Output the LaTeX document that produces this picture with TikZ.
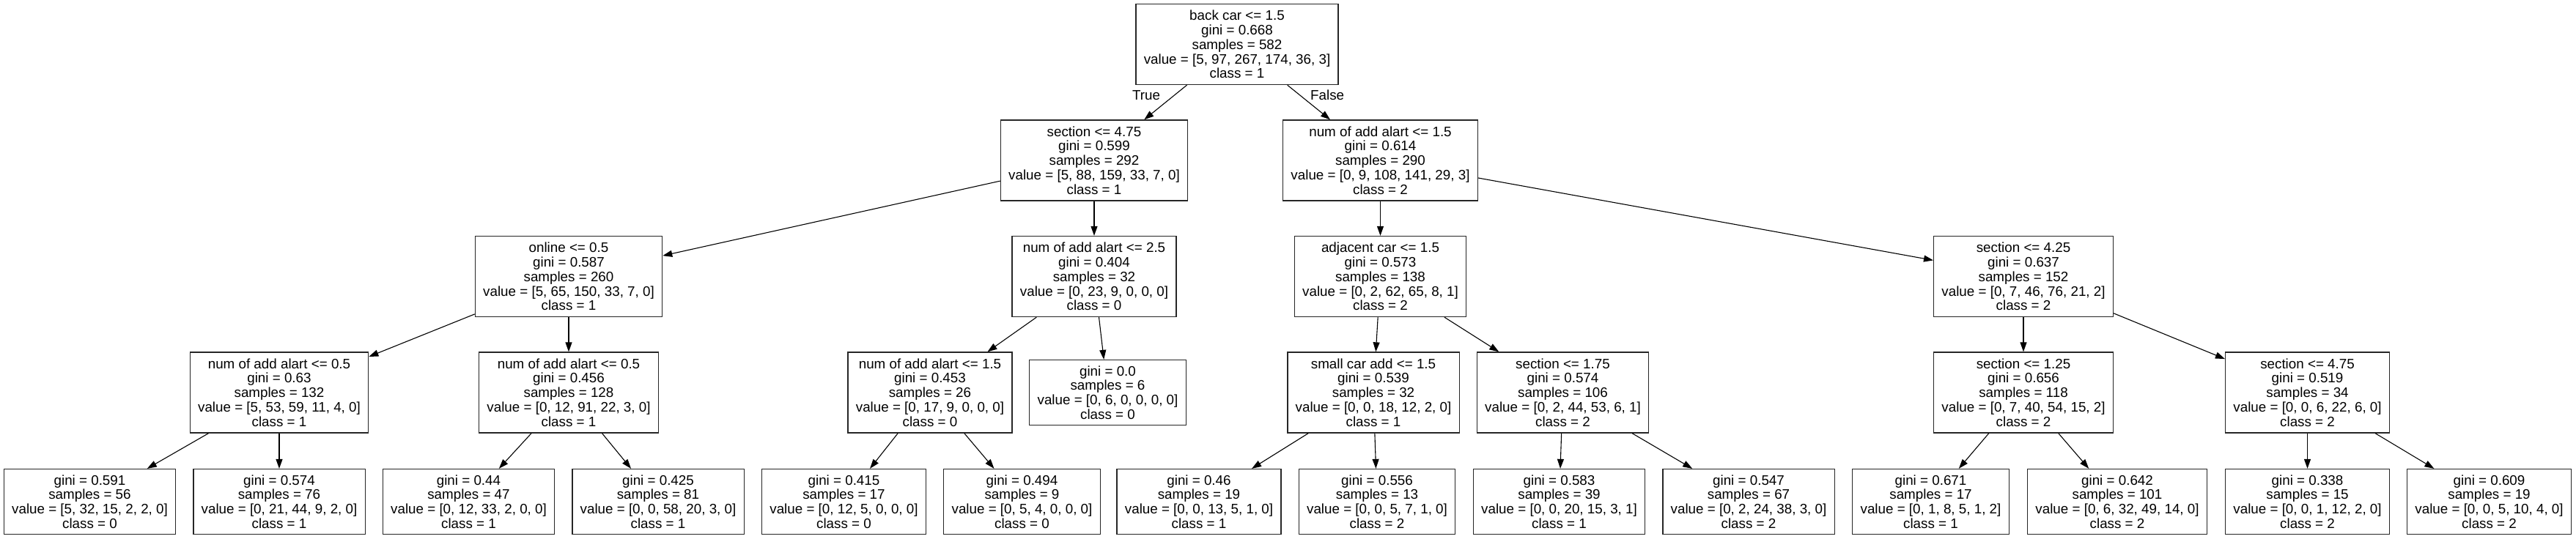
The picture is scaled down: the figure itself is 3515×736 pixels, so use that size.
\documentclass[tikz,border=0pt]{standalone}
\usepackage{fontspec}
\setmainfont{Liberation Sans}
\usetikzlibrary{positioning,arrows.meta}

\tikzstyle{block} = [rectangle, draw=black!85, line width=1.3bp, minimum height=110bp, inner xsep=10.8bp, inner ysep=0pt, align=center]
\tikzstyle{leaf} = [block, minimum height=89bp]
\tikzstyle{arrow} = [line width=1.1bp, -{Triangle[length=13bp,width=9bp]}]

\begin{document}
\begin{tikzpicture}[node distance=158.5bp, font=\fontsize{18.8bp}{19.8bp}\selectfont]
    \useasboundingbox (0,0) rectangle (3515bp,-736bp);
    \node (0) [block] at (1688bp,-60.5bp) {back car <= 1.5\\gini = 0.668\\samples = 582\\value = [5, 97, 267, 174, 36, 3]\\class = 1};
    \node (1) [block, below of=0, xshift=-195bp] {section <= 4.75\\gini = 0.599\\samples = 292\\value = [5, 88, 159, 33, 7, 0]\\class = 1};
    \node (2) [block, below of=1, xshift=-717bp] {online <= 0.5\\gini = 0.587\\samples = 260\\value = [5, 65, 150, 33, 7, 0]\\class = 1};
    \node (3) [block, below of=2, xshift=-395bp] {num of add alart <= 0.5\\gini = 0.63\\samples = 132\\value = [5, 53, 59, 11, 4, 0]\\class = 1};
    \node (4) [leaf, below of=3, xshift=-258.5bp, yshift=9.5bp] {gini = 0.591\\samples = 56\\value = [5, 32, 15, 2, 2, 0]\\class = 0};
    \node (5) [leaf, below of=3, yshift=9.5bp] {gini = 0.574\\samples = 76\\value = [0, 21, 44, 9, 2, 0]\\class = 1};
    \node (6) [block, below of=2] {num of add alart <= 0.5\\gini = 0.456\\samples = 128\\value = [0, 12, 91, 22, 3, 0]\\class = 1};
    \node (7) [leaf, below of=6, xshift=-136.5bp, yshift=9.5bp] {gini = 0.44\\samples = 47\\value = [0, 12, 33, 2, 0, 0]\\class = 1};
    \node (8) [leaf, below of=6, xshift=122bp, yshift=9.5bp] {gini = 0.425\\samples = 81\\value = [0, 0, 58, 20, 3, 0]\\class = 1};
    \node (9) [block, below of=1] {num of add alart <= 2.5\\gini = 0.404\\samples = 32\\value = [0, 23, 9, 0, 0, 0]\\class = 0};
    \node (10) [block, below of=9, xshift=-224bp] {num of add alart <= 1.5\\gini = 0.453\\samples = 26\\value = [0, 17, 9, 0, 0, 0]\\class = 0};
    \node (11) [leaf, below of=10, xshift=-117.5bp, yshift=9.5bp] {gini = 0.415\\samples = 17\\value = [0, 12, 5, 0, 0, 0]\\class = 0};
    \node (12) [leaf, below of=10, xshift=125.5bp, yshift=9.5bp] {gini = 0.494\\samples = 9\\value = [0, 5, 4, 0, 0, 0]\\class = 0};
    \node (13) [leaf, below of=9, xshift=18.5bp] {gini = 0.0\\samples = 6\\value = [0, 6, 0, 0, 0, 0]\\class = 0};
    \node (14) [block, below of=0, xshift=195.5bp] {num of add alart <= 1.5\\gini = 0.614\\samples = 290\\value = [0, 9, 108, 141, 29, 3]\\class = 2};
    \node (15) [block, below of=14] {adjacent car <= 1.5\\gini = 0.573\\samples = 138\\value = [0, 2, 62, 65, 8, 1]\\class = 2};
    \node (16) [block, below of=15, xshift=-9.5bp] {small car add <= 1.5\\gini = 0.539\\samples = 32\\value = [0, 0, 18, 12, 2, 0]\\class = 1};
    \node (17) [leaf, below of=16, xshift=-238bp, yshift=9.5bp] {gini = 0.46\\samples = 19\\value = [0, 0, 13, 5, 1, 0]\\class = 1};
    \node (18) [leaf, below of=16, xshift=5bp, yshift=9.5bp] {gini = 0.556\\samples = 13\\value = [0, 0, 5, 7, 1, 0]\\class = 2};
    \node (19) [block, below of=15, xshift=249bp] {section <= 1.75\\gini = 0.574\\samples = 106\\value = [0, 2, 44, 53, 6, 1]\\class = 2};
    \node (20) [leaf, below of=19, xshift=-5bp, yshift=9.5bp] {gini = 0.583\\samples = 39\\value = [0, 0, 20, 15, 3, 1]\\class = 1};
    \node (21) [leaf, below of=19, xshift=253.5bp, yshift=9.5bp] {gini = 0.547\\samples = 67\\value = [0, 2, 24, 38, 3, 0]\\class = 2};
    \node (22) [block, below of=14, xshift=877.5bp] {section <= 4.25\\gini = 0.637\\samples = 152\\value = [0, 7, 46, 76, 21, 2]\\class = 2};
    \node (23) [block, below of=22] {section <= 1.25\\gini = 0.656\\samples = 118\\value = [0, 7, 40, 54, 15, 2]\\class = 2};
    \node (24) [leaf, below of=23, xshift=-126.5bp, yshift=9.5bp] {gini = 0.671\\samples = 17\\value = [0, 1, 8, 5, 1, 2]\\class = 1};
    \node (25) [leaf, below of=23, xshift=128bp, yshift=9.5bp] {gini = 0.642\\samples = 101\\value = [0, 6, 32, 49, 14, 0]\\class = 2};
    \node (26) [block, below of=22, xshift=387.5bp] {section <= 4.75\\gini = 0.519\\samples = 34\\value = [0, 0, 6, 22, 6, 0]\\class = 2};
    \node (27) [leaf, below of=26, yshift=9.5bp] {gini = 0.338\\samples = 15\\value = [0, 0, 1, 12, 2, 0]\\class = 2};
    \node (28) [leaf, below of=26, xshift=248bp, yshift=9.5bp] {gini = 0.609\\samples = 19\\value = [0, 0, 5, 10, 4, 0]\\class = 2};
    \draw [arrow] (0) -- node [pos=0.29, left=19bp, inner sep=0pt] (true) {True} (1);
    \draw [arrow] (0) -- node [pos=0.29, right=14bp, inner sep=0pt] (false) {False} (14);
    \draw [arrow] (1) -- (2);
    \draw [arrow] (1) -- (9);
    \draw [arrow] (2) -- (3);
    \draw [arrow] (2) -- (6);
    \draw [arrow] (3) -- (4);
    \draw [arrow] (3) -- (5);
    \draw [arrow] (6) -- (7);
    \draw [arrow] (6) -- (8);
    \draw [arrow] (9) -- (10);
    \draw [arrow] (9) -- (13);
    \draw [arrow] (10) -- (11);
    \draw [arrow] (10) -- (12);
    \draw [arrow] (14) -- (15);
    \draw [arrow] (14) -- (22);
    \draw [arrow] (15) -- (16);
    \draw [arrow] (15) -- (19);
    \draw [arrow] (16) -- (17);
    \draw [arrow] (16) -- (18);
    \draw [arrow] (19) -- (20);
    \draw [arrow] (19) -- (21);
    \draw [arrow] (22) -- (23);
    \draw [arrow] (22) -- (26);
    \draw [arrow] (23) -- (24);
    \draw [arrow] (23) -- (25);
    \draw [arrow] (26) -- (27);
    \draw [arrow] (26) -- (28);
\end{tikzpicture}
\end{document}
